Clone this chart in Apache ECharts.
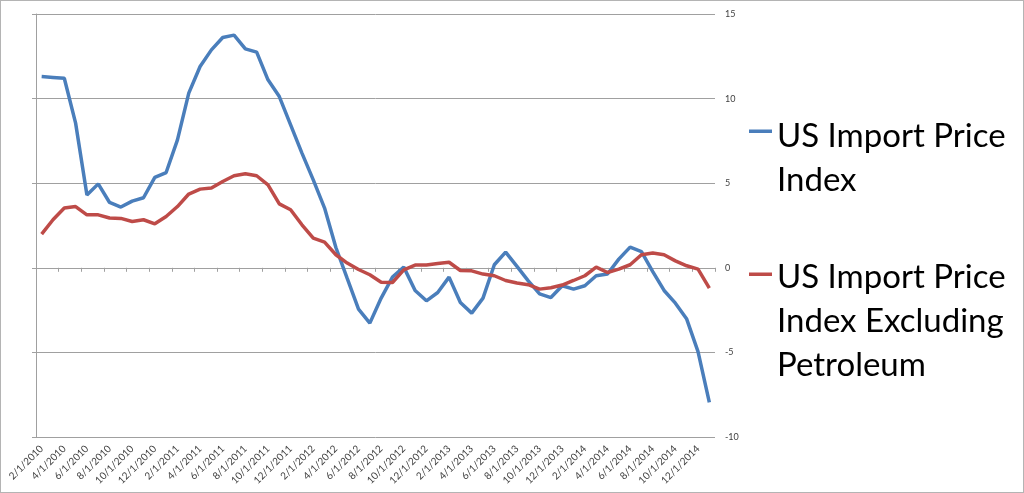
<!DOCTYPE html>
<html>
<head>
<meta charset="utf-8">
<script src="https://cdn.jsdelivr.net/npm/echarts@6/dist/echarts.min.js"></script>
<style>
html,body{margin:0;padding:0;background:#fff;}
#chart{width:1022px;height:491px;border:1px solid #b4b4b4;}
</style>
</head>
<body>
<div id="chart"></div>
<script>
// Categories: monthly from 2/1/2010 to 1/1/2015
const categories = [];
for (let y = 2010; y <= 2015; y++) {
  for (let m = 1; m <= 12; m++) {
    if ((y === 2010 && m < 2) || (y === 2015 && m > 1)) continue;
    categories.push(m + '/1/' + y);
  }
}
const seriesNames = ['US Import Price\nIndex', 'US Import Price\nIndex Excluding\nPetroleum'];
const importPrice = [
  11.3, 11.25, 11.2, 8.55, 4.3, 4.96, 3.86, 3.59, 3.94, 4.14,
  5.34, 5.63, 7.56, 10.32, 11.9, 12.88, 13.61, 13.75, 12.94, 12.75,
  11.11, 10.12, 8.45, 6.78, 5.2, 3.53, 1.2, -0.63, -2.44, -3.27,
  -1.79, -0.55, 0.04, -1.34, -1.95, -1.46, -0.55, -2.05, -2.68, -1.79,
  0.18, 0.93, 0.08, -0.77, -1.54, -1.76, -1.06, -1.26, -1.06, -0.47,
  -0.37, 0.51, 1.22, 0.96, -0.22, -1.34, -2.09, -3.03, -4.95, -7.96
];
const importExPetroleum = [
  1.99, 2.84, 3.53, 3.62, 3.13, 3.13, 2.94, 2.92, 2.74, 2.84,
  2.6, 3.03, 3.62, 4.36, 4.65, 4.71, 5.1, 5.44, 5.56, 5.44,
  4.9, 3.78, 3.43, 2.54, 1.75, 1.52, 0.77, 0.28, -0.1, -0.41,
  -0.85, -0.87, -0.12, 0.16, 0.16, 0.25, 0.33, -0.16, -0.18, -0.37,
  -0.47, -0.75, -0.9, -1.0, -1.26, -1.18, -1.02, -0.75, -0.47, 0.04,
  -0.28, -0.08, 0.18, 0.77, 0.87, 0.77, 0.41, 0.12, -0.08, -1.2
];
const yTicks = { min: -10, max: 15, interval: 5 };

const chart = echarts.init(document.getElementById('chart'));
const gridColor = '#a0a0a0';
chart.setOption({
  animation: false,
  backgroundColor: '#fff',
  grid: { left: 35, right: 308, top: 13, bottom: 55 },
  legend: [
    {
      data: [seriesNames[0]], orient: 'vertical', left: 748, top: 113, padding: 0,
      itemWidth: 23, itemHeight: 88,
      icon: 'path://M0,0h0.01v0.01h-0.01z M0,15.5h23v3.5h-23z M22.99,87.99h0.01v0.01h-0.01z',
      textStyle: { fontFamily: 'Lato', fontSize: 33, lineHeight: 44, color: '#000' }
    },
    {
      data: [seriesNames[1]], orient: 'vertical', left: 748, top: 254, padding: 0,
      itemWidth: 23, itemHeight: 132,
      icon: 'path://M0,0h0.01v0.01h-0.01z M0,17.5h23v3.5h-23z M22.99,131.99h0.01v0.01h-0.01z',
      textStyle: { fontFamily: 'Lato', fontSize: 33, lineHeight: 44, color: '#000' }
    }
  ],
  xAxis: [
    {
      type: 'category', data: categories, boundaryGap: true, position: 'bottom',
      axisLine: { show: false, onZero: false },
      axisTick: { show: false },
      axisLabel: { interval: 1, rotate: 45, fontSize: 10, color: '#404040', fontFamily: 'Lato', margin: 10 },
      splitLine: { show: false }
    },
    {
      type: 'category', data: categories, boundaryGap: true, position: 'bottom',
      axisLine: { show: true, onZero: true, lineStyle: { color: gridColor, width: 1 } },
      axisTick: { show: true, interval: 1, length: 4, lineStyle: { color: gridColor } },
      axisLabel: { show: false },
      splitLine: { show: false }
    }
  ],
  yAxis: [
    {
      type: 'value', position: 'left', min: yTicks.min, max: yTicks.max, interval: yTicks.interval,
      axisLine: { show: true, lineStyle: { color: gridColor } },
      axisTick: { show: true, length: 4, lineStyle: { color: gridColor } },
      axisLabel: { show: false },
      splitLine: { show: false }
    },
    {
      type: 'value', position: 'right', min: yTicks.min, max: yTicks.max, interval: yTicks.interval,
      axisLine: { show: false }, axisTick: { show: false },
      axisLabel: { fontSize: 9, color: '#404040', fontFamily: 'Lato', margin: 10 },
      splitLine: { show: true, lineStyle: { color: gridColor, width: 1 } }
    }
  ],
  series: [
    {
      name: seriesNames[0], type: 'line', data: importPrice, xAxisIndex: 0, yAxisIndex: 0,
      symbol: 'none', color: '#4a7ebb', lineStyle: { width: 3.5, color: '#4a7ebb' }
    },
    {
      name: seriesNames[1], type: 'line', data: importExPetroleum, xAxisIndex: 0, yAxisIndex: 0,
      symbol: 'none', color: '#be4b48', lineStyle: { width: 3.5, color: '#be4b48' }
    }
  ]
});
</script>
</body>
</html>
